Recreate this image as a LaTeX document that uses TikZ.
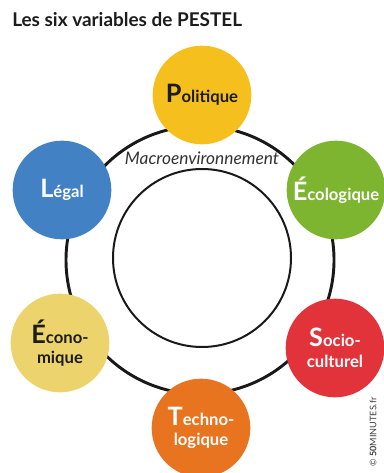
\documentclass[tikz,border=0pt]{standalone}
\usepackage{fontspec}
\setmainfont{Lato}
\begin{document}
\begin{tikzpicture}[x=0.75pt,y=-0.75pt,
  ringline/.style={draw=black!90, line width=2.2pt, circle, inner sep=0pt, minimum size=201pt},
  coreline/.style={draw=black!90, line width=1.5pt, circle, inner sep=0pt, minimum size=133.5pt},
  factor/.style={circle, inner sep=0pt, minimum size=74pt, align=center, font=\bfseries\fontsize{12.5}{15.5}\selectfont}
]
\definecolor{cPol}{HTML}{F5BF1E}
\definecolor{cLeg}{HTML}{4281C4}
\definecolor{cEco}{HTML}{7DB430}
\definecolor{cEcn}{HTML}{EDD36B}
\definecolor{cSoc}{HTML}{E2323A}
\definecolor{cTec}{HTML}{E97420}
\definecolor{ink}{HTML}{1C1C1C}
\newcommand{\initial}[1]{{\fontsize{19}{19}\selectfont #1}}

% canvas
\fill[white] (0,0) rectangle (383,473);
\useasboundingbox (0,0) rectangle (383,473);

% title
\node[anchor=base west, inner sep=0pt, text=ink, font=\bfseries\fontsize{14.2}{16}\selectfont] (title) at (12,27) {Les six variables de PESTEL};

% environment rings
\node[ringline] (ring) at (200,260) {};
\node[coreline] (core) at (202,258) {};
\node[font=\itshape\fontsize{13}{15}\selectfont, text=black!80, inner sep=0pt] (macro) at (202,158) {Macroenvironnement};

% the six factors
\node[factor, fill=cPol, text=ink] (pol) at (202,95) {\initial{P}olitique};
\node[factor, fill=cLeg, text=white] (leg) at (62,190) {\initial{L}égal};
\node[factor, fill=cEco, text=white] (eco) at (336,190) {\initial{É}cologique};
\node[factor, fill=cEcn, text=ink] (ecn) at (60,343) {\initial{É}cono-\\mique};
\node[factor, fill=cSoc, text=white] (soc) at (335,348) {\initial{S}ocio-\\culturel};
\node[factor, fill=cTec, text=white] (tec) at (201,428) {\initial{T}echno-\\logique};

% credit
\node[rotate=90, text=black!75, inner sep=0pt, font=\fontsize{6.8}{7}\selectfont] (credit) at (373,432) {© \textbf{50}MINUTES.fr};
\end{tikzpicture}
\end{document}
